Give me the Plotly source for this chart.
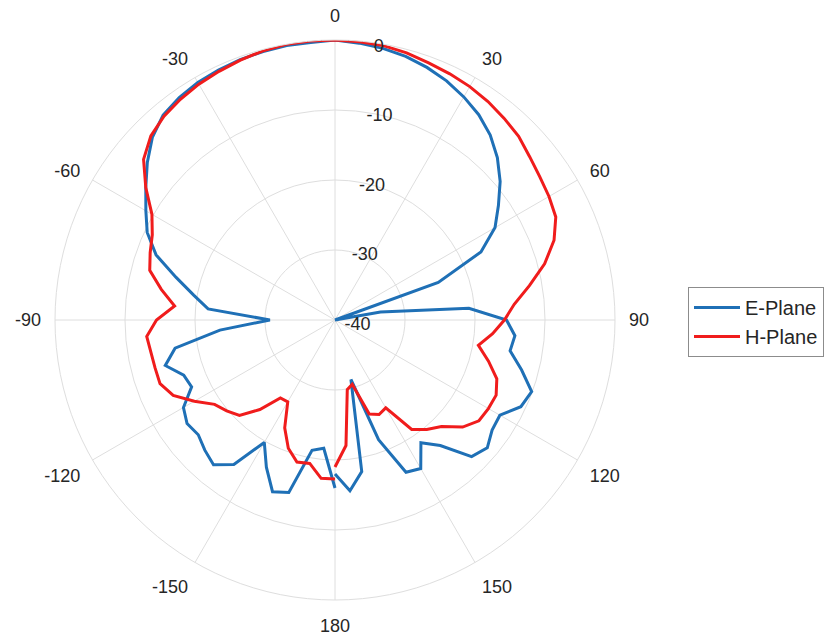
import plotly.graph_objects as go

# Measurement angles (deg), -180 .. 180 in 5 degree steps
theta = list(range(-180, 181, 5))

# Normalised gain (dB)
e_plane = [
    -16.0, -21.6, -21.1, -14.5, -13.9, -16.8, -19.8, -14.8, -13.0, -13.7,
    -14.5, -14.2, -15.0, -17.4, -17.0, -14.9, -16.8, -23.5, -30.7, -21.8,
    -19.5, -16.5, -12.8, -10.4, -8.8, -7.0, -5.0, -3.1, -1.8, -1.2,
    -0.8, -0.6, -0.4, -0.3, -0.2, -0.2, 0.0, -0.3, -0.6, -1.0,
    -1.6, -2.3, -3.2, -4.2, -5.5, -7.2, -9.2, -11.5, -13.6, -17.0,
    -24.3, -40.0, -33.4, -20.8, -15.5, -14.2, -14.6, -12.4, -10.1, -10.7,
    -12.8, -12.6, -11.6, -12.4, -16.6, -18.6, -15.5, -16.0, -21.8, -31.2,
    -18.0, -15.5, -18.0,
]
h_plane = [
    -17.3, -17.3, -19.2, -19.0, -20.5, -23.0, -26.5, -26.4, -23.3, -20.7,
    -19.8, -19.0, -16.8, -14.5, -13.4, -13.4, -13.3, -13.0, -14.5, -17.0,
    -14.8, -12.6, -11.9, -11.2, -9.8, -7.0, -4.3, -2.8, -2.0, -1.5,
    -1.1, -0.8, -0.5, -0.2, 0.0, 0.0, 0.0, -0.1, -0.2, -0.5,
    -0.9, -1.2, -1.5, -1.9, -2.4, -2.9, -3.7, -4.3, -4.7, -5.2,
    -6.7, -9.0, -11.8, -14.3, -15.8, -17.4, -19.2, -17.3, -15.4, -14.6,
    -14.7, -14.9, -16.2, -18.5, -19.6, -20.9, -25.5, -25.1, -25.7, -30.5,
    -29.9, -22.0, -19.0,
]

angle_ticks = [0, 30, 60, 90, 120, 150, 180, 210, 240, 270, 300, 330]
angle_labels = ["0", "30", "60", "90", "120", "150", "180",
                "-150", "-120", "-90", "-60", "-30"]
radial_ticks = [-40, -30, -20, -10, 0]
radial_labels = ["-40", "-30", "-20", "-10", "0"]

fig = go.Figure()
fig.add_trace(go.Scatterpolar(
    r=e_plane, theta=theta, mode="lines", name="E-Plane",
    line=dict(color="#1f70b6", width=3),
))
fig.add_trace(go.Scatterpolar(
    r=h_plane, theta=theta, mode="lines", name="H-Plane",
    line=dict(color="#f01c1c", width=3),
))

W, H = 833, 641
cx, cy, R = 335, 320, 280
grid = "#dedede"
radial_angle = 84

fig.update_layout(
    width=W, height=H,
    margin=dict(l=0, r=0, t=0, b=0),
    paper_bgcolor="white",
    font=dict(family="Liberation Sans, Arial, sans-serif", size=18, color="#262626"),
    polar=dict(
        domain=dict(x=[(cx - R) / W, (cx + R) / W],
                    y=[(H - cy - R) / H, (H - cy + R) / H]),
        bgcolor="white",
        angularaxis=dict(
            rotation=90, direction="clockwise",
            tickmode="array", tickvals=angle_ticks, ticktext=angle_labels,
            ticks="outside", ticklen=10, tickcolor="rgba(0,0,0,0)",
            showline=True, linecolor=grid, linewidth=1,
            gridcolor=grid, gridwidth=1,
            tickfont=dict(size=18),
        ),
        radialaxis=dict(
            range=[-40, 0], angle=radial_angle, tickangle=radial_angle,
            tickmode="array", tickvals=radial_ticks, ticktext=radial_labels,
            showline=False, ticks="", gridcolor=grid, gridwidth=1,
            tickfont=dict(size=18), side="clockwise",
        ),
    ),
    legend=dict(
        x=688 / W, y=1 - 287 / H, xanchor="left", yanchor="top",
        bordercolor="#8c8c8c", borderwidth=1, bgcolor="white",
        font=dict(size=20), itemwidth=46, tracegroupgap=0,
    ),
    showlegend=True,
)

fig.write_html("out.html")
